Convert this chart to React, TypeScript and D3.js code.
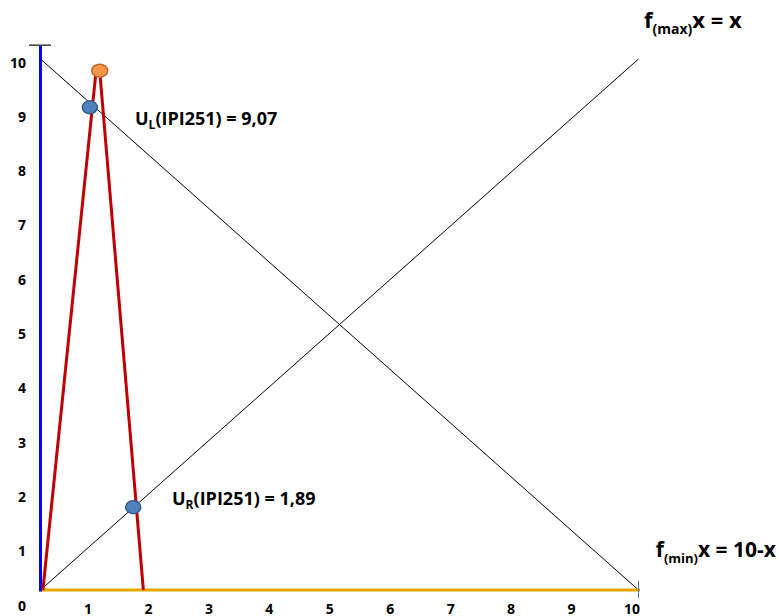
import React from "react";
import * as d3 from "d3";

const W = 779;
const H = 616;

// data (chart coordinates, 0..10)
const fMaxLine: [number, number][] = [[0, 0], [10, 10]];
const fMinLine: [number, number][] = [[0, 10], [10, 0]];
const triangleLeft: [number, number][] = [[0.04, 0], [0.93, 9.78]];
const triangleRight: [number, number][] = [[0.99, 9.78], [1.72, 0]];
const peakPoint: [number, number] = [0.99, 9.78];
const uLPoint: [number, number] = [0.825, 9.09];
const uRPoint: [number, number] = [1.55, 1.56];
const yTickLabels = [0, 1, 2, 3, 4, 5, 6, 7, 8, 9, 10];
const xTickLabels = [1, 2, 3, 4, 5, 6, 7, 8, 9, 10];
const uLText = { main: "U", sub: "L", rest: "(IPI251) = 9,07" };
const uRText = { main: "U", sub: "R", rest: "(IPI251) = 1,89" };

const FONT = "'Open Sans', 'Noto Sans', sans-serif";

export default function App() {
  const x = d3.scaleLinear().domain([0, 10]).range([40.5, 638.5]);
  const y = d3.scaleLinear().domain([0, 10]).range([590, 59]);
  const yLab = d3.scaleLinear().domain([0, 10]).range([605, 62]);
  const xLab = d3.scaleLinear().domain([1, 10]).range([88, 632]);
  const line = d3
    .line<[number, number]>()
    .x((d) => x(d[0]))
    .y((d) => y(d[1]));

  return (
    <svg
      width={W}
      height={H}
      style={{ position: "absolute", left: 0, top: 0, background: "#fff" }}
      fontFamily={FONT}
      fontWeight={700}
    >
      {/* diagonal functions */}
      <path d={line(fMaxLine) || ""} stroke="#000" strokeWidth={1} fill="none" />
      <path d={line(fMinLine) || ""} stroke="#000" strokeWidth={1} fill="none" />

      {/* axes */}
      <line x1={x(0)} x2={x(10) + 1.5} y1={y(0)} y2={y(0)} stroke="#E3A600" strokeWidth={3} />
      <line x1={x(0)} x2={x(0)} y1={y(10.26)} y2={y(-0.03)} stroke="#0000FF" strokeWidth={3} />
      <line x1={29} x2={51} y1={y(10.26)} y2={y(10.26)} stroke="#404040" strokeWidth={1.5} />
      <line x1={x(10)} x2={x(10)} y1={y(0) - 9} y2={y(0) + 8} stroke="#4472C4" strokeWidth={1} />

      {/* red triangle */}
      <path d={line(triangleLeft) || ""} stroke="#C00000" strokeWidth={3} fill="none" />
      <path d={line(triangleRight) || ""} stroke="#C00000" strokeWidth={3} fill="none" />

      {/* points */}
      <ellipse cx={x(peakPoint[0])} cy={y(peakPoint[1])} rx={8} ry={6.5} fill="#F79646" stroke="#B9692E" strokeWidth={1.5} />
      <ellipse cx={x(uLPoint[0])} cy={y(uLPoint[1])} rx={7.5} ry={6.5} fill="#4F81BD" stroke="#385D8A" strokeWidth={1.5} />
      <ellipse cx={x(uRPoint[0])} cy={y(uRPoint[1])} rx={7.5} ry={6.5} fill="#4F81BD" stroke="#385D8A" strokeWidth={1.5} />

      {/* tick labels */}
      {yTickLabels.map((v) => (
        <text key={"y" + v} x={26} y={yLab(v)} textAnchor="end" dominantBaseline="central" fontSize={14} fill="#000">
          {v}
        </text>
      ))}
      {xTickLabels.map((v) => (
        <text key={"x" + v} x={xLab(v)} y={608} textAnchor="middle" dominantBaseline="central" fontSize={14} fill="#000">
          {v}
        </text>
      ))}

      {/* annotations */}
      <text x={135} y={125} fontSize={18} fill="#000">
        <tspan>{uLText.main}</tspan>
        <tspan fontSize={12} dy={4}>{uLText.sub}</tspan>
        <tspan dy={-4}>{uLText.rest}</tspan>
      </text>
      <text x={172} y={505} fontSize={18} fill="#000">
        <tspan>{uRText.main}</tspan>
        <tspan fontSize={12} dy={4}>{uRText.sub}</tspan>
        <tspan dy={-4}>{uRText.rest}</tspan>
      </text>
      <text x={644} y={28} fontSize={22} fill="#000">
        <tspan>f</tspan>
        <tspan fontSize={14} dy={6}>(max)</tspan>
        <tspan dy={-6}>x = x</tspan>
      </text>
      <text x={776} y={557} fontSize={21} fill="#000" textAnchor="end">
        <tspan>f</tspan>
        <tspan fontSize={13} dy={6}>(min)</tspan>
        <tspan dy={-6}>x = 10-x</tspan>
      </text>
    </svg>
  );
}
